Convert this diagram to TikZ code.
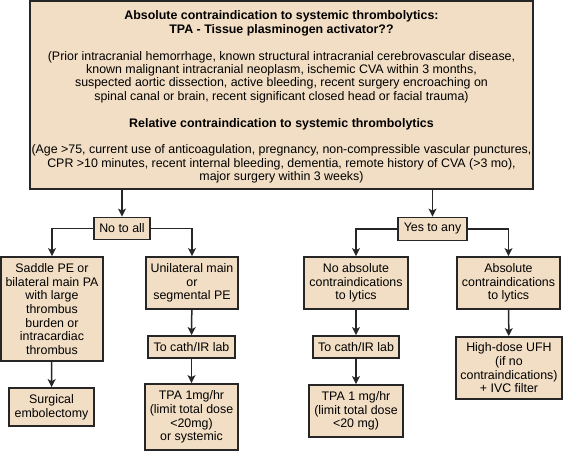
\documentclass[tikz,border=0pt]{standalone}
\usepackage{fontspec}
\setmainfont{Liberation Sans}
\usetikzlibrary{positioning,arrows.meta}
\definecolor{boxfill}{RGB}{242,222,196}
\tikzset{
  box/.style={draw=black!85, fill=boxfill, line width=1.8pt, align=center, inner sep=1pt,
    font=\fontsize{12.4}{13.7}\selectfont},
  arr/.style={draw=black!85, line width=1.5pt, -{Stealth[length=8pt,width=8pt,inset=2pt]}}
}

\begin{document}
\begin{tikzpicture}[x=1pt,y=-1pt]
\useasboundingbox (0,0) rectangle (563,451);

% Draw top box
\node[box, minimum width=503pt, minimum height=188pt, font=\fontsize{12.4}{13.4}\selectfont] (top) at (281.5,95) {%
\rule{0pt}{13pt}\textbf{Absolute contraindication to systemic thrombolytics:}\\
\textbf{TPA - Tissue plasminogen activator??}\\[13.4pt]
(Prior intracranial hemorrhage, known structural intracranial cerebrovascular disease,\\
known malignant intracranial neoplasm, ischemic CVA within 3 months,\\
suspected aortic dissection, active bleeding, recent surgery encroaching on\\
spinal canal or brain, recent significant closed head or facial trauma)\\[13.4pt]
\textbf{Relative contraindication to systemic thrombolytics}\\[13.4pt]
(Age >75, current use of anticoagulation, pregnancy, non-compressible vascular punctures,\\
CPR >10 minutes, recent internal bleeding, dementia, remote history of CVA (>3 mo),\\
major surgery within 3 weeks)};

% Draw answer boxes
\node[box, minimum width=56pt, minimum height=22pt] (noall) at (122,228.5) {No to all};
\node[box, minimum width=69pt, minimum height=23pt] (yesany) at (432.5,229) {Yes to any};

% Draw left branch
\node[box, minimum width=102pt, minimum height=104pt] (saddle) at (52,309)
  {Saddle PE or\\bilateral main PA\\with large\\thrombus\\burden or\\intracardiac\\thrombus};
\node[box, minimum width=85pt, minimum height=38pt] (surgery) at (51.5,407) {Surgical\\embolectomy};
\node[box, minimum width=92pt, minimum height=52pt] (unilat) at (192,283) {Unilateral main\\or\\segmental PE};
\node[box, minimum width=87pt, minimum height=22pt] (cathL) at (191.5,347) {To cath/IR lab};
\node[box, minimum width=93pt, minimum height=66pt] (tpaL) at (191.5,417)
  {TPA 1mg/hr\\(limit total dose\\<20mg)\\or systemic};

% Draw right branch
\node[box, minimum width=104pt, minimum height=52pt] (noabs) at (356,283)
  {No absolute\\contraindications\\to lytics};
\node[box, minimum width=86pt, minimum height=22pt] (cathR) at (356,347) {To cath/IR lab};
\node[box, minimum width=94pt, minimum height=52pt] (tpaR) at (356,411)
  {TPA 1 mg/hr\\(limit total dose\\<20 mg)};
\node[box, minimum width=103pt, minimum height=52pt] (absol) at (508.5,283)
  {Absolute\\contraindications\\to lytics};
\node[box, minimum width=106pt, minimum height=62pt] (ufh) at (509,368)
  {High-dose UFH\\(if no\\contraindications)\\+ IVC filter};

% Draw arrows
\draw[arr] (top.south -| noall) -- (noall);
\draw[arr] (top.south -| yesany) -- (yesany);
\draw[arr] (noall.west) -| (saddle);
\draw[arr] (noall.east) -| (unilat);
\draw[arr] (yesany.west) -| (noabs);
\draw[arr] (yesany.east) -| (absol);
\draw[arr] (saddle) -- (surgery);
\draw[arr] (unilat) -- (cathL);
\draw[arr] (cathL) -- (tpaL);
\draw[arr] (noabs) -- (cathR);
\draw[arr] (cathR) -- (tpaR);
\draw[arr] (absol) -- (ufh);

\end{tikzpicture}
\end{document}
